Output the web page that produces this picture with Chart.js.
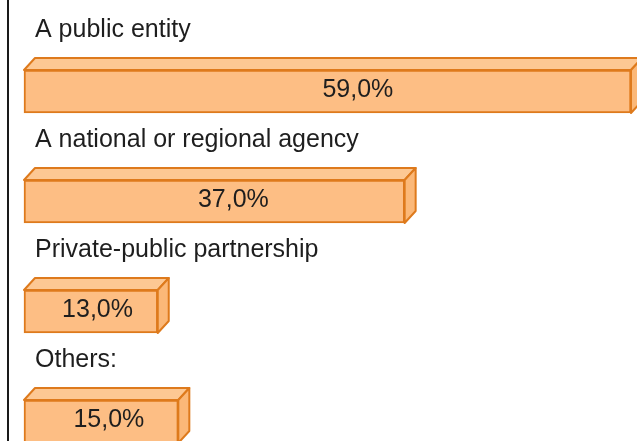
<!DOCTYPE html>
<html>
<head>
<meta charset="utf-8">
<script src="https://cdn.jsdelivr.net/npm/chart.js@4"></script>
<style>
  body { margin: 0; background: #fff; }
  #wrap { width: 637px; height: 441px; }
</style>
</head>
<body>
<div id="wrap"><canvas id="chart"></canvas></div>
<script>
// ================= DATA =================
const categories = ["A public entity", "A national or regional agency", "Private-public partnership", "Others:"];
const shares = [59.0, 37.0, 13.0, 15.0];

// ================= 3D BAR LOOK =================
const depthX = 11;
const depthY = 12;
const edgeColor = "#de7a1c";

const boxPlugin = {
  id: "box3d",
  afterDatasetsDraw(chart) {
    const ctx = chart.ctx;
    const meta = chart.getDatasetMeta(0);

    // left axis line
    ctx.save();
    ctx.strokeStyle = "#1a1a1a";
    ctx.lineWidth = 2;
    ctx.beginPath();
    ctx.moveTo(8, 0);
    ctx.lineTo(8, chart.height);
    ctx.stroke();

    meta.data.forEach(function (bar, i) {
      const p = bar.getProps(["x", "y", "base", "height"], true);
      const top = p.y - p.height / 2;
      const bottom = p.y + p.height / 2;

      ctx.lineWidth = 2;
      ctx.strokeStyle = edgeColor;
      ctx.lineJoin = "round";

      // top face
      ctx.fillStyle = "#fdc893";
      ctx.beginPath();
      ctx.moveTo(p.base, top);
      ctx.lineTo(p.base + depthX, top - depthY);
      ctx.lineTo(p.x + depthX, top - depthY);
      ctx.lineTo(p.x, top);
      ctx.closePath();
      ctx.fill();
      ctx.stroke();

      // side face
      ctx.fillStyle = "#fbb878";
      ctx.beginPath();
      ctx.moveTo(p.x, top);
      ctx.lineTo(p.x + depthX, top - depthY);
      ctx.lineTo(p.x + depthX, bottom - depthY);
      ctx.lineTo(p.x, bottom);
      ctx.closePath();
      ctx.fill();
      ctx.stroke();

      // value text
      ctx.fillStyle = "#1e1e1e";
      ctx.font = "25px 'Liberation Sans', Arial, sans-serif";
      ctx.textAlign = "center";
      ctx.textBaseline = "middle";
      const txt = shares[i].toFixed(1).replace(".", ",") + "%";
      ctx.fillText(txt, p.base + (p.x - p.base) * 0.55, p.y - 1);

      // category text above the bar
      ctx.textAlign = "left";
      ctx.textBaseline = "alphabetic";
      ctx.fillText(categories[i], 35, top - 33);
    });
    ctx.restore();
  }
};

new Chart(document.getElementById("chart"), {
  type: "bar",
  data: {
    labels: categories,
    datasets: [{
      data: shares,
      backgroundColor: "#fdbe84",
      borderColor: edgeColor,
      borderWidth: 2,
      borderSkipped: false,
      barThickness: 43,
      clip: false
    }]
  },
  options: {
    indexAxis: "y",
    responsive: true,
    maintainAspectRatio: false,
    animation: false,
    layout: { padding: { left: 24, right: 6, top: 91.5, bottom: 19.5 } },
    plugins: {
      legend: { display: false },
      tooltip: { enabled: false }
    },
    scales: {
      x: { display: false, min: 0, max: 59 },
      y: { display: false, offset: false }
    }
  },
  plugins: [boxPlugin]
});
</script>
</body>
</html>
